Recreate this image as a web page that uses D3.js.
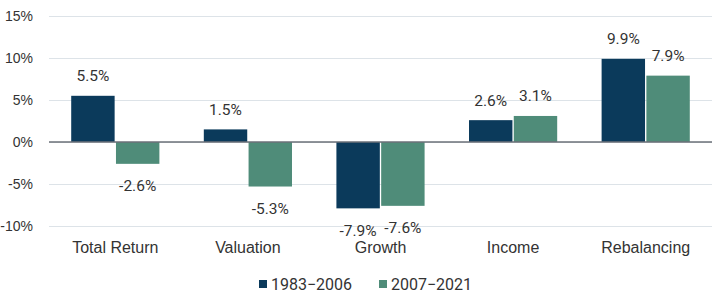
<!DOCTYPE html>
<html>
<head>
<meta charset="utf-8">
<script src="https://cdn.jsdelivr.net/npm/d3@7"></script>
<style>
  body { margin: 0; background: #fff; }
  svg { display: block; font-family: Roboto, sans-serif; }
  .tick text { fill: #333; font-size: 16px; }
  .y.axis .tick text { font-size: 14px; }
  .value-label { fill: #333; font-size: 15.5px; text-anchor: middle; }
  .legend text { fill: #333; font-size: 16px; }
</style>
</head>
<body>
<div id="vis"></div>
<script>
'use strict'

const categories = ['Total Return', 'Valuation', 'Growth', 'Income', 'Rebalancing']
const seriesNames = ['1983\u22122006', '2007\u22122021']
const early = [5.5, 1.5, -7.9, 2.6, 9.9]
const late = [-2.6, -5.3, -7.6, 3.1, 7.9]
const yTicks = [-10, -5, 0, 5, 10, 15]
const colors = ['#0b3a5b', '#4f8c79']

const dataset = categories.flatMap((c, i) => [
  { category: c, series: seriesNames[0], value: early[i] }
, { category: c, series: seriesNames[1], value: late[i] }
])

//
// CHART CONFIG
//

const totalWidth = 720
const totalHeight = 297
const margin = { top: 16, right: 8, bottom: 71, left: 49 }
const width = totalWidth - margin.left - margin.right
const height = totalHeight - margin.top - margin.bottom

//
// SCALES
//

const x = d3.scaleBand()
  .domain(categories)
  .range([0, width])
  .paddingInner(0.335)
  .paddingOuter(0.1675)

const xSub = d3.scaleBand()
  .domain(seriesNames)
  .range([0, x.bandwidth()])
  .paddingInner(0.03)

const y = d3.scaleLinear()
  .domain([-10, 15])
  .range([height, 0])

const color = d3.scaleOrdinal()
  .domain(seriesNames)
  .range(colors)

//
// DRAW CHART
//

const svg = d3.select('div#vis')
  .append('svg')
    .attr('width', totalWidth)
    .attr('height', totalHeight)

const innerChart = svg
  .append('g')
    .attr('transform', 'translate(' + margin.left + ',' + margin.top + ')')

// grid + y labels
const yAxis = d3.axisLeft(y)
  .tickValues(yTicks)
  .tickSize(-width)
  .tickPadding(16)
  .tickFormat(d => d + '%')

innerChart.append('g')
  .attr('class', 'y axis')
  .call(yAxis)
  .call(g => g.select('.domain').remove())
  .call(g => g.selectAll('.tick line')
    .attr('stroke', '#dde3e8')
    .attr('stroke-width', 1.2))

// bars
const groups = innerChart.selectAll('g.group')
  .data(categories)
  .join('g')
    .attr('class', 'group')
    .attr('transform', d => 'translate(' + x(d) + ',0)')

groups.selectAll('rect')
  .data(c => dataset.filter(d => d.category === c))
  .join('rect')
    .attr('x', d => xSub(d.series))
    .attr('width', xSub.bandwidth())
    .attr('y', d => y(Math.max(0, d.value)))
    .attr('height', d => Math.abs(y(d.value) - y(0)))
    .attr('fill', d => color(d.series))

groups.selectAll('text.value-label')
  .data(c => dataset.filter(d => d.category === c))
  .join('text')
    .attr('class', 'value-label')
    .attr('x', d => xSub(d.series) + xSub.bandwidth() / 2)
    .attr('y', d => d.value >= 0 ? y(d.value) - 20 : y(d.value) + 22)
    .attr('dy', '0.35em')
    .text(d => d.value.toFixed(1) + '%')

// zero line
innerChart.append('line')
  .attr('x1', 0)
  .attr('x2', width)
  .attr('y1', y(0))
  .attr('y2', y(0))
  .attr('stroke', '#6b7178')
  .attr('stroke-width', 1.5)

// x labels
const xAxis = d3.axisBottom(x)
  .tickSize(0)
  .tickPadding(16)

innerChart.append('g')
  .attr('class', 'x axis')
  .attr('transform', 'translate(0,' + (y(-10)) + ')')
  .call(xAxis)
  .call(g => g.select('.domain').remove())

//
// LEGEND
//

const legendX = [259, 379]

const legend = svg.append('g')
  .attr('class', 'legend')
  .selectAll('g')
  .data(seriesNames)
  .join('g')
    .attr('transform', (d, i) => 'translate(' + legendX[i] + ',280)')

legend.append('rect')
  .attr('width', 8)
  .attr('height', 8)
  .attr('fill', d => color(d))

legend.append('text')
  .attr('x', 12)
  .attr('y', 4)
  .attr('dy', '0.35em')
  .text(d => d)
</script>
</body>
</html>
